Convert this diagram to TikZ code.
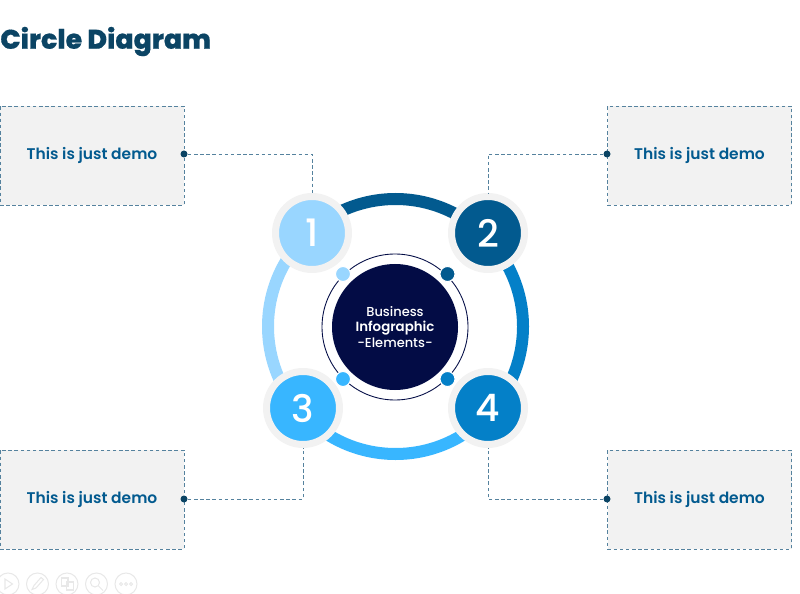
\documentclass[tikz,border=0pt]{standalone}
\usepackage{fontspec}
\setmainfont{Poppins}
\newfontfamily\titlefont{Poppins ExtraBold}[FakeBold=0.5]
\newfontfamily\mediumfont{Poppins SemiBold}
\newfontfamily\strongfont{Poppins Medium}
\usepackage{tikz}
\usetikzlibrary{calc}
\tikzset{>=latex}
\definecolor{mytitle}{RGB}{11, 68, 100}
\definecolor{mylight}{RGB}{153, 214, 255}
\definecolor{mydark}{RGB}{2, 90, 143}
\definecolor{mysky}{RGB}{56, 182, 255}
\definecolor{myblue}{RGB}{4, 128, 200}
\definecolor{mynavy}{RGB}{3, 12, 69}
\definecolor{mygrey}{RGB}{242, 242, 242}
\definecolor{mydash}{RGB}{85, 130, 158}
\definecolor{myicon}{RGB}{232, 232, 232}
\tikzset{
  demobox/.style={draw=mydash, fill=mygrey, line width=0.5pt, dash pattern=on 2pt off 1.5pt, minimum width=3.68cm, minimum height=1.98cm, inner sep=0, text=mydark, font=\mediumfont\fontsize{8.8}{10}\selectfont},
  leader/.style={draw=mydash, line width=0.5pt, dash pattern=on 2pt off 1.5pt},
  enddot/.style={circle, fill=mytitle, minimum size=0.14cm, inner sep=0},
  numdisc/.style={circle, draw=mygrey, line width=0.14cm, minimum size=1.46cm, inner sep=0, text=white, font=\strongfont\fontsize{21.5}{21.5}\selectfont},
  pin/.style={circle, draw=white, line width=0.6pt, minimum size=0.3cm, inner sep=0},
  band/.style={line width=0.24cm},
  tool/.style={draw=myicon, line width=0.6pt}
}
\begin{document}
\begin{tikzpicture}[scale=1]
\useasboundingbox (0, 0) rectangle (16, 11.86);

\node[anchor=west, inner sep=0, text=mytitle, font=\titlefont\fontsize{15.3}{18}\selectfont] (title) at (0, 11.03) {Circle Diagram};

% outer ring
\draw[band, mydark] (7.91, 5.33) ++(135:2.55) arc (135:45:2.55);
\draw[band, myblue] (7.91, 5.33) ++(45:2.55) arc (45:-45:2.55);
\draw[band, mysky] (7.91, 5.33) ++(-45:2.55) arc (-45:-135:2.55);
\draw[band, mylight] (7.91, 5.33) ++(-135:2.55) arc (-135:-225:2.55);

\node[demobox] (boxA) at (1.84, 8.75) {This is just demo};
\node[demobox] (boxB) at (13.99, 8.75) {This is just demo};
\node[demobox] (boxC) at (1.84, 1.87) {This is just demo};
\node[demobox] (boxD) at (13.99, 1.87) {This is just demo};

\node[numdisc, fill=mylight] (one) at (6.24, 7.2) {1};
\node[numdisc, fill=mydark] (two) at (9.76, 7.2) {2};
\node[numdisc, fill=mysky] (three) at (6.06, 3.7) {3};
\node[numdisc, fill=myblue] (four) at (9.76, 3.7) {4};

\node[enddot] (endA) at (3.68, 8.78) {};
\node[enddot] (endB) at (12.14, 8.78) {};
\node[enddot] (endC) at (3.68, 1.88) {};
\node[enddot] (endD) at (12.14, 1.88) {};

\draw[leader] (endA.east) -| (one.north);
\draw[leader] (endB.west) -| (two.north);
\draw[leader] (endC.east) -| (three.south);
\draw[leader] (endD.west) -| (four.south);

% centre
\node[circle, draw=mynavy, line width=0.5pt, minimum size=2.92cm, inner sep=0] (halo) at (7.9, 5.32) {};
\node[circle, fill=mynavy, minimum size=2.52cm, inner sep=0, text=white, align=center, font=\strongfont\fontsize{7.4}{8.9}\selectfont] (core) at (7.9, 5.32) {Business\\{\mediumfont\fontsize{7.6}{8.9}\selectfont Infographic}\\-Elements-};

\node[pin, fill=mylight] (pinA) at (6.86, 6.38) {};
\node[pin, fill=mydark] (pinB) at (8.95, 6.38) {};
\node[pin, fill=mysky] (pinC) at (6.86, 4.28) {};
\node[pin, fill=myblue] (pinD) at (8.95, 4.28) {};

% toolbar
\foreach \x in {0.16, 0.75, 1.34, 1.93, 2.52} {
  \draw[tool] (\x, 0.18) circle (0.22);
}
\draw[tool] (0.1, 0.28) -- (0.25, 0.18) -- (0.1, 0.08) -- cycle;
\draw[tool] (0.64, 0.07) -- (0.68, 0.15) -- (0.82, 0.31) -- (0.87, 0.27) -- (0.72, 0.1) -- cycle;
\draw[tool] (1.23, 0.14) rectangle (1.36, 0.3);
\draw[tool] (1.33, 0.06) rectangle (1.47, 0.22);
\draw[tool] (1.9, 0.21) circle (0.09);
\draw[tool] (1.97, 0.14) -- (2.06, 0.05);
\foreach \x in {2.42, 2.52, 2.62} {
  \draw[tool] (\x, 0.18) circle (0.03);
}
\end{tikzpicture}
\end{document}
